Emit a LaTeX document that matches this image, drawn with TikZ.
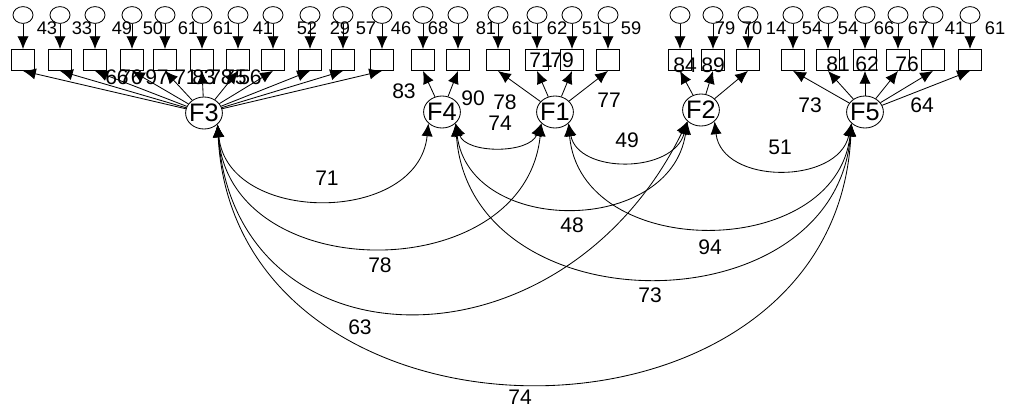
\documentclass[tikz,border=0pt]{standalone}
\usepackage{fontspec}
\setmainfont{Liberation Sans}
\usetikzlibrary{arrows.meta,shapes.geometric}

\begin{document}
\begin{tikzpicture}[
  x=0.025cm, y=-0.025cm,
  line width=0.6pt,
  factor/.style={draw, ellipse, minimum width=0.92cm, minimum height=0.8cm,
    inner xsep=-3pt, inner ysep=0pt, font=\fontsize{18}{18}\selectfont},
  indbox/.style={draw, rectangle, minimum width=0.575cm, minimum height=0.525cm, inner sep=0pt},
  errc/.style={draw, ellipse, minimum width=0.5cm, minimum height=0.42cm, inner sep=0pt},
  load/.style={-{Latex[length=3.2mm, width=2.8mm]}},
  cov/.style={{Latex[length=3.2mm, width=2.8mm]}-{Latex[length=3.2mm, width=2.8mm]}},
  num/.style={font=\fontsize{15}{15}\selectfont, inner sep=0pt},
  rsq/.style={font=\fontsize{13}{13}\selectfont, inner sep=0pt}
]
\useasboundingbox (0,0) rectangle (1009,408);

% latent factors
\node[factor] (F3) at (204,113) {F3};
\node[factor] (F4) at (442,112) {F4};
\node[factor] (F1) at (555,112) {F1};
\node[factor] (F2) at (701,110) {F2};
\node[factor] (F5) at (865,112) {F5};

% indicators with their error terms
\foreach \i/\x/\f in {1/23/F3, 2/60/F3, 3/95/F3, 4/132/F3, 5/165/F3, 6/202/F3,
    7/238/F3, 8/273/F3, 9/310/F3, 10/343/F3, 11/382/F3, 12/423/F4, 13/458/F4,
    14/498/F1, 15/537/F1, 16/572/F1, 17/608/F1, 18/680/F2, 19/713/F2, 20/748/F2,
    21/793/F5, 22/828/F5, 23/865/F5, 24/898/F5, 25/933/F5, 26/970/F5}{
  \node[indbox] (x\i) at (\x,60) {};
  \node[errc] (e\i) at (\x,15) {};
  \draw[load] (e\i) -- (x\i);
  \draw[load] (\f) -- (x\i.south);
}

% squared multiple correlations
\foreach \v/\x in {43/47, 33/82, 49/122, 50/153, 61/188, 61/223, 41/263, 52/307,
    29/340, 57/366, 46/401, 68/438, 81/486, 61/522, 62/557, 51/592, 59/631,
    79/725, 70/752, 14/776, 54/812, 54/848, 66/884, 67/918, 41/955, 61/995}
  \node[rsq] (r\x) at (\x,28) {\v};

% loadings
\node[num] (l3a) at (117,77) {66};
\node[num] (l3b) at (131,77) {76};
\node[num] (l3c) at (157,77) {97};
\node[num] (l3d) at (186,77) {71};
\node[num] (l3e) at (204,77) {83};
\node[num] (l3f) at (221,77) {78};
\node[num] (l3g) at (235,77) {75};
\node[num] (l3h) at (250,77) {56};
\node[num] (l4a) at (404,91) {83};
\node[num] (l4b) at (473,98) {90};
\node[num] (l1a) at (505,102) {78};
\node[num] (l1b) at (541,60) {71};
\node[num] (l1c) at (562,60) {79};
\node[num] (l1d) at (609,100) {77};
\node[num] (l2a) at (685,65) {84};
\node[num] (l2b) at (713,65) {89};
\node[num] (l5a) at (810,105) {73};
\node[num] (l5b) at (838,64) {81};
\node[num] (l5c) at (867,64) {62};
\node[num] (l5d) at (907,64) {76};
\node[num] (l5e) at (922,105) {64};

% covariances
\draw[cov] (F3.-40) .. controls (228,225) and (418,225) .. (F4.-140);
\draw[cov] (F3.-40) .. controls (230,288) and (525,288) .. (F1.-140);
\draw[cov] (F3.-40) .. controls (235,370) and (560,380) .. (F2.-140);
\draw[cov] (F3.-40) .. controls (235,469) and (835,469) .. (F5.-140);
\draw[cov] (F4.-40) .. controls (466,154) and (529,154) .. (F1.-140);
\draw[cov] (F4.-40) .. controls (470,236) and (670,236) .. (F2.-140);
\draw[cov] (F4.-40) .. controls (470,329) and (835,329) .. (F5.-140);
\draw[cov] (F1.-40) .. controls (578,174) and (673,174) .. (F2.-140);
\draw[cov] (F1.-40) .. controls (580,262) and (836,262) .. (F5.-140);
\draw[cov] (F2.-40) .. controls (722,185) and (838,185) .. (F5.-140);

\node[num] (c34) at (327,178) {71};
\node[num] (c31) at (380,265) {78};
\node[num] (c32) at (360,327) {63};
\node[num] (c35) at (520,397) {74};
\node[num] (c41) at (500,123) {74};
\node[num] (c42) at (572,225) {48};
\node[num] (c45) at (650,295) {73};
\node[num] (c12) at (627,140) {49};
\node[num] (c15) at (710,247) {94};
\node[num] (c25) at (780,147) {51};
\end{tikzpicture}
\end{document}
